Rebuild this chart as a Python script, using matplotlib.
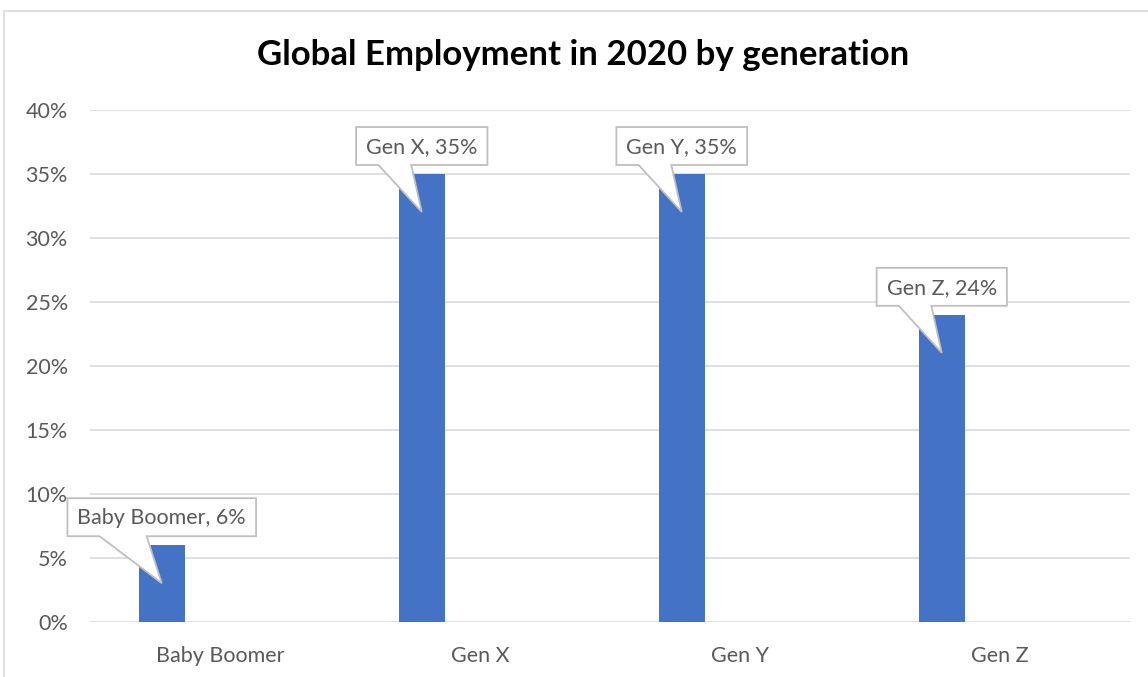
import matplotlib
matplotlib.use("Agg")
import matplotlib.pyplot as plt
from matplotlib.patches import Polygon, Rectangle
from matplotlib.transforms import IdentityTransform

categories = ["Baby Boomer", "Gen X", "Gen Y", "Gen Z"]
values = [6, 35, 35, 24]
yticks = [0, 5, 10, 15, 20, 25, 30, 35, 40]
title = "Global Employment in 2020 by generation"

W, H = 1148, 677
DPI = 100
plt.rcParams['font.family'] = ['Lato', 'DejaVu Sans']
fig = plt.figure(figsize=(W / DPI, H / DPI), dpi=DPI)
ax = fig.add_axes([90 / W, 55 / H, 1040 / W, 512 / H])

bar_color = "#4472C4"
grid_color = "#D9D9D9"
text_color = "#595959"

offset = -0.224
width = 0.177
xs = [i + offset for i in range(len(categories))]
ax.bar(xs, values, width=width, color=bar_color, zorder=3)

ax.set_xlim(-0.5, len(categories) - 0.5)
ax.set_ylim(0, 40)
ax.set_yticks(yticks)
ax.set_yticklabels([f"{v}%" for v in yticks])
ax.set_xticks(range(len(categories)))
ax.set_xticklabels(categories)
ax.tick_params(axis='both', length=0, labelsize=15.5, colors=text_color)
ax.tick_params(axis='y', pad=16)
ax.tick_params(axis='x', pad=17)
for s in ax.spines.values():
    s.set_visible(False)
ax.grid(axis='y', color=grid_color, linewidth=1.2, zorder=0)
ax.set_axisbelow(True)

fig.text(583 / W, (H - 55) / H, title, ha='center', va='center',
         fontsize=25, fontweight='bold', color='black')

# outer border
fig.patches.append(Rectangle((4 / W, -0.05), 1.2, (H - 11) / H + 0.05,
                             transform=fig.transFigure, fill=False,
                             edgecolor=grid_color, linewidth=1.2))

# callouts
fig.canvas.draw()
renderer = fig.canvas.get_renderer()
ident = IdentityTransform()
for x, v, c in zip(xs, values, categories):
    px, py = ax.transData.transform((x, v))
    label = f"{c}, {v}%"
    box_bottom = py + 9
    box_h = 38
    t = fig.text(px, box_bottom + box_h / 2 - 1, label, transform=ident,
                 ha='center', va='center', fontsize=15.5, color=text_color, zorder=11)
    bb = t.get_window_extent(renderer)
    bw = bb.width + 20
    left = px - bw / 2
    right = px + bw / 2
    top = box_bottom + box_h
    tip = (px, py - 38)
    b1 = left + 0.17 * bw
    b2 = left + 0.42 * bw
    pts = [(left, box_bottom), (b1, box_bottom), tip, (b2, box_bottom),
           (right, box_bottom), (right, top), (left, top)]
    poly = Polygon(pts, closed=True, transform=ident, facecolor='white',
                   edgecolor='#BFBFBF', linewidth=1.3, zorder=10)
    fig.patches.append(poly)

fig.savefig("out.png", dpi=DPI, facecolor='white')
